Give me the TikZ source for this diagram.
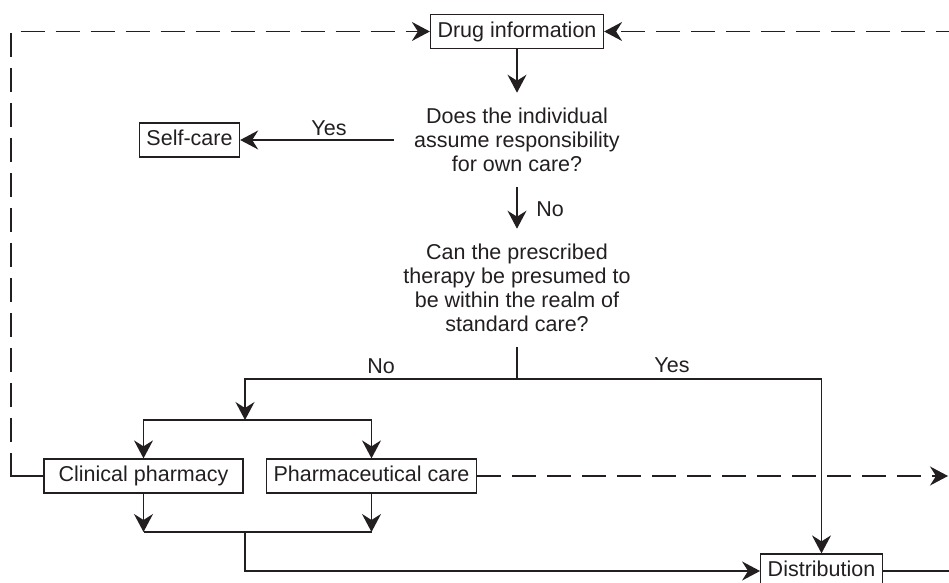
\documentclass[tikz,border=0pt]{standalone}
\usepackage{fontspec}
\setmainfont{Liberation Sans}
\usepackage{xcolor}
\definecolor{Ink}{RGB}{35,31,32}
\usepackage{tikz}
\usetikzlibrary{arrows.meta}
\tikzstyle{Box}=[draw=Ink,text=Ink,line width=0.65pt,inner xsep=3.5pt,
text height=8pt,text depth=2.3pt,minimum height=16.5pt,
font=\fontsize{10.75pt}{12pt}\selectfont]
\tikzstyle{Question}=[text=Ink,align=center,inner xsep=10pt,inner ysep=7.5pt,
font=\fontsize{10.75pt}{12pt}\selectfont]
\tikzstyle{Label}=[text=Ink,font=\fontsize{10.75pt}{12pt}\selectfont]
\tikzstyle{Edge}=[draw=Ink,line width=0.7pt]
\tikzstyle{Arrow}=[Edge,-{Stealth[length=9pt,width=9.5pt,inset=3pt]}]
\tikzstyle{Dashed}=[dash pattern=on 12pt off 5.5pt]

\begin{document}
\begin{tikzpicture}[x=0.5pt,y=-0.5pt]
        \useasboundingbox(0,0)rectangle(949,583);
        \node[Box](Drug)at(517,31.5){Drug information};
        \node[Question](Q1)at(517,140){Does the individual\\assume responsibility\\for own care?};
        \node[Box](Self)at(189.5,140){Self-care};
        \node[Question](Q2)at(517,288){Can the prescribed\\therapy be presumed to\\be within the realm of\\standard care?};
        \node[Box,minimum width=99.5pt](Clin)at(143.5,476){Clinical pharmacy};
        \node[Box](Pharm)at(371.5,476){Pharmaceutical care};
        \node[Box](Dist)at(821.5,571){Distribution};
        \node[Label](YesA)at(329,128){Yes};
        \node[Label](NoA)at(550,209){No};
        \node[Label](NoB)at(381,366){No};
        \node[Label](YesB)at(672,365){Yes};
        \coordinate(Split)at(517,379);
        \coordinate(NoTurn)at(245,420);
        \coordinate(Merge)at(245,532);
        \coordinate(LeftBot)at(11,476);
        \coordinate(LeftGap)at(11,453);
        \coordinate(RightTop)at(960,31.5);
        \coordinate(RightMid)at(948,476);
        \coordinate(RightBot)at(960,571);
        \draw[Arrow](Drug.south)--(Q1.north);
        \draw[Arrow](Q1.west)--(Self.east);
        \draw[Arrow](Q1.south)--(Q2.north);
        \draw[Edge](Q2.south)--(Split);
        \draw[Arrow](Split)-|(NoTurn);
        \draw[Arrow](Split)-|(Dist.north);
        \draw[Arrow](NoTurn)-|(Clin.north);
        \draw[Arrow](NoTurn)-|(Pharm.north);
        \draw[Arrow](Clin.south)--(Clin.south|-Merge);
        \draw[Arrow](Pharm.south)--(Pharm.south|-Merge);
        \draw[Edge](Clin.south|-Merge)--(Pharm.south|-Merge);
        \draw[Arrow](Merge)|-(Dist.west);
        % feedback loops
        \draw[Edge](Clin.west)--(LeftBot)--(LeftGap);
        \draw[Arrow,Dashed,dash phase=12pt](LeftGap)|-(Drug.west);
        \draw[Arrow,Dashed](RightTop)--(Drug.east);
        \draw[Arrow,Dashed](Pharm.east)--(RightMid);
        \draw[Edge](Dist.east)--(RightBot);
    \end{tikzpicture}
\end{document}
